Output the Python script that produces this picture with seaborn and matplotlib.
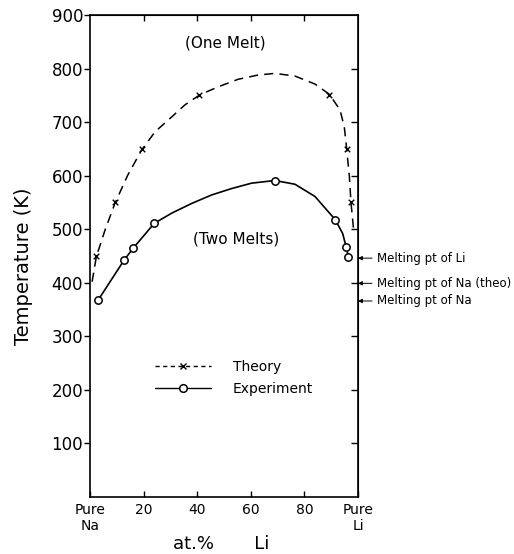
import numpy as np
import pandas as pd
import matplotlib
matplotlib.use('Agg')
import matplotlib.pyplot as plt
from matplotlib.lines import Line2D
import seaborn as sb

# theory curve (dashed)
theory_x = [0.8, 2.4, 5.6, 9.3, 14.1, 19.3, 24.3, 29.9, 35.4, 41.0, 47.9, 55.3,
            62.8, 69.0, 76.5, 84.0, 89.3, 93.3, 94.9, 95.8, 96.8, 97.4, 98.3]
theory_T = [402, 449, 498, 548, 601, 648, 682, 707, 732, 751, 766, 780,
            788, 791, 786, 771, 752, 723, 691, 650, 598, 550, 503]
theory_mark_x = [2.4, 9.3, 19.3, 40.8, 89.3, 95.8, 97.3]
theory_mark_T = [450, 550, 650, 750, 750, 650, 550]

# experiment curve (solid)
exp_x = [3.1, 12.7, 16.2, 24.0, 30.5, 37.9, 45.4, 52.9, 60.3, 69.0, 76.5,
         84.0, 91.5, 94.3, 95.6, 96.4]
exp_T = [368, 442, 465, 511, 530, 548, 564, 576, 586, 591, 584,
         561, 518, 492, 467, 449]
exp_mark_x = [3.1, 12.7, 16.2, 24.0, 69.0, 91.5, 95.6, 96.4]
exp_mark_T = [368, 442, 465, 511, 590, 518, 467, 449]

melt_labels = ['Melting pt of Li', 'Melting pt of Na (theo)', 'Melting pt of Na']
melt_T = [446, 399, 366]

xtick_pos = [0, 20, 40, 60, 80, 100]
xtick_labels = ['Pure\nNa', '20', '40', '60', '80', 'Pure\nLi']
ytick_pos = [100, 200, 300, 400, 500, 600, 700, 800, 900]

sb.set_style('ticks')
plt.rcParams['font.family'] = ['DejaVu Sans']
plt.rcParams['text.color'] = 'black'
plt.rcParams['axes.labelcolor'] = 'black'
plt.rcParams['xtick.color'] = 'black'
plt.rcParams['ytick.color'] = 'black'
plt.rcParams['axes.edgecolor'] = 'black'

fig, ax = plt.subplots(figsize=(5.14, 5.54), dpi=100)
ax.set_position([0.175, 0.1029, 0.5214, 0.870])

sb.lineplot(x=theory_x, y=theory_T, ax=ax, color='black', lw=1.1,
            linestyle=(0, (6, 4)), sort=False)
sb.scatterplot(x=theory_mark_x, y=theory_mark_T, ax=ax, marker='x', s=16,
               color='black', linewidth=1.0, zorder=3)
sb.lineplot(x=exp_x, y=exp_T, ax=ax, color='black', lw=1.2, sort=False)
sb.scatterplot(x=exp_mark_x, y=exp_mark_T, ax=ax, marker='o', s=28,
               facecolor='white', edgecolor='black', linewidth=1.1, zorder=4)

ax.set_xlim(0, 100)
ax.set_ylim(0, 900)
ax.set_xticks(xtick_pos)
ax.set_xticklabels(xtick_labels)
ax.set_yticks(ytick_pos)

for sp in ax.spines.values():
    sp.set_linewidth(1.2)
    sp.set_visible(True)

ax.tick_params(axis='y', direction='out', length=4, width=1, pad=1, labelsize=12)
ax.tick_params(axis='x', direction='in', length=4.5, width=1, pad=4, labelsize=10)

top = ax.secondary_xaxis('top')
top.set_xticks([20, 40, 60, 80])
top.tick_params(direction='in', length=4.5, width=1, labeltop=False)
right = ax.secondary_yaxis('right')
right.set_yticks([100, 200, 300, 400, 500, 600, 700, 800])
right.tick_params(direction='in', length=5, width=1, labelright=False)

ax.set_ylabel('Temperature (K)', fontsize=14)
ax.yaxis.set_label_coords(-0.213, 0.479)
ax.set_xlabel('at.%       Li', fontsize=13)
ax.xaxis.set_label_coords(0.49, -0.079)

ax.text(50.4, 848, '(One Melt)', ha='center', va='center', fontsize=11)
ax.text(54.5, 481, '(Two Melts)', ha='center', va='center', fontsize=11)

for lab, t in zip(melt_labels, melt_T):
    ax.annotate(lab, xy=(1.0, t), xycoords=('axes fraction', 'data'),
                xytext=(1.07, t), textcoords=('axes fraction', 'data'),
                ha='left', va='center', fontsize=8.5, annotation_clip=False,
                arrowprops=dict(arrowstyle='-|>', lw=0.7, color='black',
                                mutation_scale=6, shrinkA=1, shrinkB=0))

handles = [Line2D([], [], color='black', ls=(0, (3, 2.5)), lw=1, marker='x', ms=4),
           Line2D([], [], color='black', ls='-', lw=1, marker='o', ms=5.5,
                  markerfacecolor='white', markeredgewidth=1.1)]
ax.legend(handles, ['Theory', 'Experiment'], loc='upper left',
          bbox_to_anchor=(0.243, 0.285), frameon=False, handlelength=4,
          handletextpad=1.6, numpoints=1, fontsize=10, labelspacing=0.6,
          borderpad=0, borderaxespad=0)

fig.savefig('out.png', dpi=100)
